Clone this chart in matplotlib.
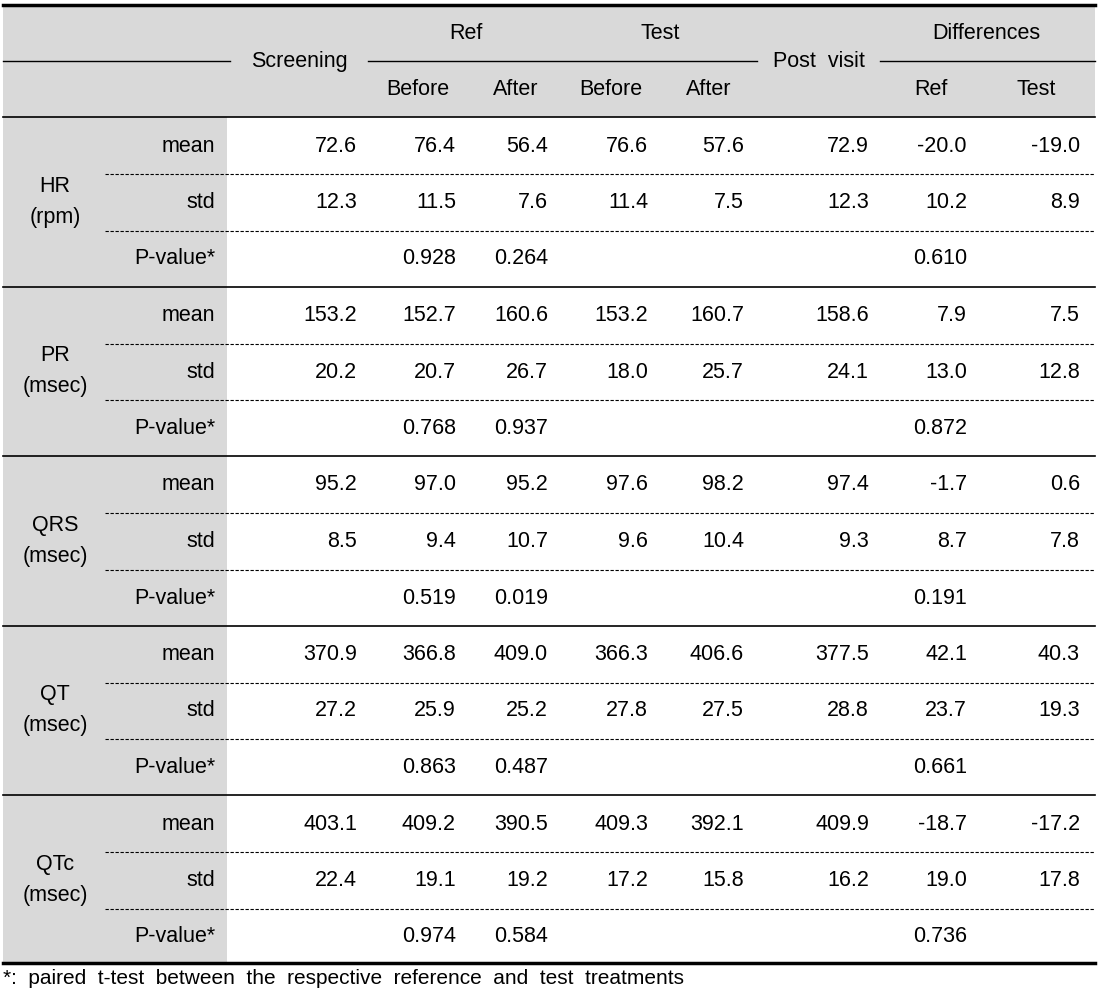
import matplotlib
matplotlib.use("Agg")
import matplotlib.pyplot as plt
from matplotlib.patches import Rectangle

params = ["HR\n(rpm)", "PR\n(msec)", "QRS\n(msec)", "QT\n(msec)", "QTc\n(msec)"]
stats = ["mean", "std", "P-value*"]
columns = ["Screening", "Ref Before", "Ref After", "Test Before", "Test After", "Post visit", "Diff Ref", "Diff Test"]
values = [
    [["72.6","76.4","56.4","76.6","57.6","72.9","-20.0","-19.0"],
     ["12.3","11.5","7.6","11.4","7.5","12.3","10.2","8.9"],
     ["","0.928","0.264","","","","0.610",""]],
    [["153.2","152.7","160.6","153.2","160.7","158.6","7.9","7.5"],
     ["20.2","20.7","26.7","18.0","25.7","24.1","13.0","12.8"],
     ["","0.768","0.937","","","","0.872",""]],
    [["95.2","97.0","95.2","97.6","98.2","97.4","-1.7","0.6"],
     ["8.5","9.4","10.7","9.6","10.4","9.3","8.7","7.8"],
     ["","0.519","0.019","","","","0.191",""]],
    [["370.9","366.8","409.0","366.3","406.6","377.5","42.1","40.3"],
     ["27.2","25.9","25.2","27.8","27.5","28.8","23.7","19.3"],
     ["","0.863","0.487","","","","0.661",""]],
    [["403.1","409.2","390.5","409.3","392.1","409.9","-18.7","-17.2"],
     ["22.4","19.1","19.2","17.2","15.8","16.2","19.0","17.8"],
     ["","0.974","0.584","","","","0.736",""]],
]
footnote = "*:  paired  t-test  between  the  respective  reference  and  test  treatments"

plt.rcParams["font.family"] = "Liberation Sans"
fig = plt.figure(figsize=(11, 9.98), dpi=100)
ax = fig.add_axes([0, 0, 1, 1])
ax.set_xlim(0, 1100); ax.set_ylim(998, 0); ax.axis("off")
grey = "#d9d9d9"; fs = 15.5
L, R = 3, 1095
ax.add_patch(Rectangle((L, 5), R - L, 112, color=grey, lw=0))
ax.add_patch(Rectangle((L, 117), 224, 846, color=grey, lw=0))
ax.plot([L, R], [5, 5], color="k", lw=2.5)
ax.plot([L, R], [117, 117], color="k", lw=1.2)
ax.plot([L, R], [963, 963], color="k", lw=2.5)
for seg in [(L, 230), (368, 757), (880, R)]:
    ax.plot(seg, [61, 61], color="k", lw=1)
for x, t in [(466, "Ref"), (660, "Test"), (986, "Differences")]:
    ax.text(x, 33, t, ha="center", va="center", fontsize=fs)
for x, t in [(299, "Screening"), (819, "Post  visit")]:
    ax.text(x, 61, t, ha="center", va="center", fontsize=fs)
for x, t in [(418, "Before"), (516, "After"), (611, "Before"), (709, "After"), (931, "Ref"), (1036, "Test")]:
    ax.text(x, 89, t, ha="center", va="center", fontsize=fs)
right = [357, 456, 548, 648, 744, 869, 967, 1080]
gh = 169.5
for g in range(5):
    y0 = 117 + g * gh
    ax.text(55, y0 + gh / 2, params[g], ha="center", va="center", fontsize=fs, linespacing=1.6)
    for s in range(3):
        yc = y0 + 29 + s * 56.5
        ax.text(215, yc, stats[s], ha="right", va="center", fontsize=fs)
        for c in range(8):
            v = values[g][s][c]
            if v:
                ax.text(right[c], yc, v, ha="right", va="center", fontsize=fs)
        if s < 2:
            ax.plot([105, R], [yc + 28, yc + 28], color="k", lw=0.8, ls=(0, (3, 1.5)))
    if g < 4:
        ax.plot([L, R], [y0 + gh, y0 + gh], color="k", lw=1.2)
ax.text(L, 978, footnote, ha="left", va="center", fontsize=15)
fig.savefig("out.png", dpi=100)
